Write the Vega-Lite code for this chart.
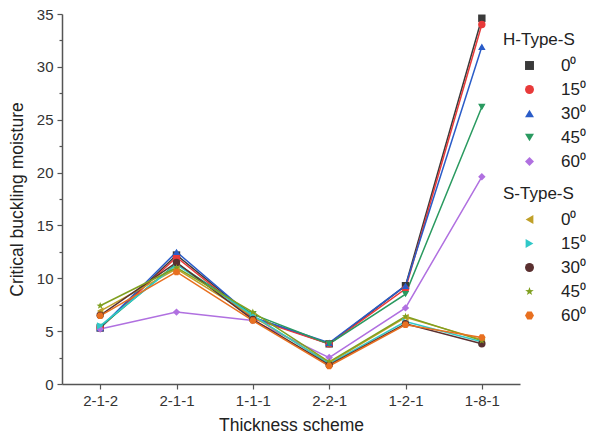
{
  "$schema": "https://vega.github.io/schema/vega-lite/v6.json",
  "width": 458,
  "height": 370,
  "autosize": {"type": "none"},
  "padding": {"left": 62, "top": 14, "right": 72, "bottom": 60},
  "background": "white",
  "config": {
    "view": {"stroke": null},
    "font": "Liberation Sans",
    "axis": {"domainColor": "#555555", "tickColor": "#555555", "labelColor": "#333333", "titleColor": "#222222", "labelFont": "Liberation Sans", "titleFont": "Liberation Sans", "titleFontWeight": "normal", "grid": false, "domainWidth": 1.5, "tickWidth": 1.2},
    "legend": {"labelFont": "Liberation Sans", "titleFont": "Liberation Sans", "titleFontWeight": "normal", "labelColor": "#222222", "titleColor": "#222222"}
  },
  "data": {
    "values": [
      {"scheme": "2-1-2", "group": "H", "angle": "0⁰", "value": 5.3},
      {"scheme": "2-1-1", "group": "H", "angle": "0⁰", "value": 12.2},
      {"scheme": "1-1-1", "group": "H", "angle": "0⁰", "value": 6.3},
      {"scheme": "2-2-1", "group": "H", "angle": "0⁰", "value": 3.8},
      {"scheme": "1-2-1", "group": "H", "angle": "0⁰", "value": 9.3},
      {"scheme": "1-8-1", "group": "H", "angle": "0⁰", "value": 34.6},
      {"scheme": "2-1-2", "group": "H", "angle": "15⁰", "value": 5.3},
      {"scheme": "2-1-1", "group": "H", "angle": "15⁰", "value": 12.0},
      {"scheme": "1-1-1", "group": "H", "angle": "15⁰", "value": 6.2},
      {"scheme": "2-2-1", "group": "H", "angle": "15⁰", "value": 3.8},
      {"scheme": "1-2-1", "group": "H", "angle": "15⁰", "value": 9.0},
      {"scheme": "1-8-1", "group": "H", "angle": "15⁰", "value": 34.0},
      {"scheme": "2-1-2", "group": "H", "angle": "30⁰", "value": 5.3},
      {"scheme": "2-1-1", "group": "H", "angle": "30⁰", "value": 12.5},
      {"scheme": "1-1-1", "group": "H", "angle": "30⁰", "value": 6.3},
      {"scheme": "2-2-1", "group": "H", "angle": "30⁰", "value": 3.9},
      {"scheme": "1-2-1", "group": "H", "angle": "30⁰", "value": 9.3},
      {"scheme": "1-8-1", "group": "H", "angle": "30⁰", "value": 31.9},
      {"scheme": "2-1-2", "group": "H", "angle": "45⁰", "value": 5.4},
      {"scheme": "2-1-1", "group": "H", "angle": "45⁰", "value": 11.4},
      {"scheme": "1-1-1", "group": "H", "angle": "45⁰", "value": 6.6},
      {"scheme": "2-2-1", "group": "H", "angle": "45⁰", "value": 3.8},
      {"scheme": "1-2-1", "group": "H", "angle": "45⁰", "value": 8.5},
      {"scheme": "1-8-1", "group": "H", "angle": "45⁰", "value": 26.2},
      {"scheme": "2-1-2", "group": "H", "angle": "60⁰", "value": 5.2},
      {"scheme": "2-1-1", "group": "H", "angle": "60⁰", "value": 6.8},
      {"scheme": "1-1-1", "group": "H", "angle": "60⁰", "value": 6.0},
      {"scheme": "2-2-1", "group": "H", "angle": "60⁰", "value": 2.5},
      {"scheme": "1-2-1", "group": "H", "angle": "60⁰", "value": 7.2},
      {"scheme": "1-8-1", "group": "H", "angle": "60⁰", "value": 19.6},
      {"scheme": "2-1-2", "group": "S", "angle": "0⁰", "value": 6.9},
      {"scheme": "2-1-1", "group": "S", "angle": "0⁰", "value": 10.9},
      {"scheme": "1-1-1", "group": "S", "angle": "0⁰", "value": 6.4},
      {"scheme": "2-2-1", "group": "S", "angle": "0⁰", "value": 2.0},
      {"scheme": "1-2-1", "group": "S", "angle": "0⁰", "value": 6.3},
      {"scheme": "1-8-1", "group": "S", "angle": "0⁰", "value": 4.2},
      {"scheme": "2-1-2", "group": "S", "angle": "15⁰", "value": 5.5},
      {"scheme": "2-1-1", "group": "S", "angle": "15⁰", "value": 11.3},
      {"scheme": "1-1-1", "group": "S", "angle": "15⁰", "value": 6.5},
      {"scheme": "2-2-1", "group": "S", "angle": "15⁰", "value": 1.9},
      {"scheme": "1-2-1", "group": "S", "angle": "15⁰", "value": 5.9},
      {"scheme": "1-8-1", "group": "S", "angle": "15⁰", "value": 4.0},
      {"scheme": "2-1-2", "group": "S", "angle": "30⁰", "value": 6.5},
      {"scheme": "2-1-1", "group": "S", "angle": "30⁰", "value": 11.5},
      {"scheme": "1-1-1", "group": "S", "angle": "30⁰", "value": 6.1},
      {"scheme": "2-2-1", "group": "S", "angle": "30⁰", "value": 1.8},
      {"scheme": "1-2-1", "group": "S", "angle": "30⁰", "value": 5.7},
      {"scheme": "1-8-1", "group": "S", "angle": "30⁰", "value": 3.8},
      {"scheme": "2-1-2", "group": "S", "angle": "45⁰", "value": 7.4},
      {"scheme": "2-1-1", "group": "S", "angle": "45⁰", "value": 11.0},
      {"scheme": "1-1-1", "group": "S", "angle": "45⁰", "value": 6.8},
      {"scheme": "2-2-1", "group": "S", "angle": "45⁰", "value": 2.1},
      {"scheme": "1-2-1", "group": "S", "angle": "45⁰", "value": 6.4},
      {"scheme": "1-8-1", "group": "S", "angle": "45⁰", "value": 4.1},
      {"scheme": "2-1-2", "group": "S", "angle": "60⁰", "value": 6.45},
      {"scheme": "2-1-1", "group": "S", "angle": "60⁰", "value": 10.6},
      {"scheme": "1-1-1", "group": "S", "angle": "60⁰", "value": 6.0},
      {"scheme": "2-2-1", "group": "S", "angle": "60⁰", "value": 1.7},
      {"scheme": "1-2-1", "group": "S", "angle": "60⁰", "value": 5.6},
      {"scheme": "1-8-1", "group": "S", "angle": "60⁰", "value": 4.4}
    ]
  },
  "encoding": {
    "x": {
      "field": "scheme", "type": "ordinal",
      "sort": ["2-1-2", "2-1-1", "1-1-1", "2-2-1", "1-2-1", "1-8-1"],
      "scale": {"type": "point", "padding": 0.5},
      "axis": {"title": "Thickness scheme", "labelAngle": 0, "labelFontSize": 15, "titleFontSize": 17.5, "tickSize": 5, "labelPadding": 4, "titlePadding": 8}
    },
    "y": {
      "field": "value", "type": "quantitative",
      "scale": {"domain": [0, 35], "nice": false},
      "axis": {
        "title": "Critical buckling moisture",
        "values": [0, 2.5, 5, 7.5, 10, 12.5, 15, 17.5, 20, 22.5, 25, 27.5, 30, 32.5, 35],
        "labelExpr": "datum.value % 5 === 0 ? datum.label : ''",
        "tickSize": {"condition": {"test": "datum.value % 5 === 0", "value": 5}, "value": 3},
        "labelFontSize": 15, "titleFontSize": 17.5, "labelPadding": 4, "titlePadding": 10
      }
    }
  },
  "layer": [
    {
      "transform": [{"filter": "datum.group === 'H'"}],
      "encoding": {
        "color": {
          "field": "angle", "type": "nominal",
          "scale": {"domain": ["0⁰", "15⁰", "30⁰", "45⁰", "60⁰"], "range": ["#3a3a3a", "#e83a3a", "#2a5cc8", "#2a9a60", "#b070e0"]},
          "legend": {
            "title": "H-Type-S", "orient": "none", "legendX": 441, "legendY": 18,
            "titleFontSize": 17, "labelFontSize": 17, "symbolSize": 80, "symbolOffset": 18, "labelOffset": 23, "rowPadding": 6, "titlePadding": 8,
            "symbolStrokeWidth": 0
          }
        },
        "shape": {
          "field": "angle", "type": "nominal",
          "scale": {"domain": ["0⁰", "15⁰", "30⁰", "45⁰", "60⁰"], "range": ["square", "circle", "triangle-up", "triangle-down", "diamond"]},
          "legend": null
        }
      },
      "layer": [
        {"mark": {"type": "line", "strokeWidth": 1.5}},
        {"mark": {"type": "point", "filled": true, "size": 55, "opacity": 1}}
      ]
    },
    {
      "transform": [{"filter": "datum.group === 'S'"}],
      "encoding": {
        "color": {
          "field": "angle", "type": "nominal",
          "scale": {"domain": ["0⁰", "15⁰", "30⁰", "45⁰", "60⁰"], "range": ["#c0a028", "#30c8c8", "#5a3030", "#80a020", "#e87020"]},
          "legend": {
            "title": "S-Type-S", "orient": "none", "legendX": 441, "legendY": 172,
            "titleFontSize": 17, "labelFontSize": 17, "symbolSize": 80, "symbolOffset": 18, "labelOffset": 23, "rowPadding": 6, "titlePadding": 8,
            "symbolStrokeWidth": 0
          }
        },
        "shape": {
          "field": "angle", "type": "nominal",
          "scale": {"domain": ["0⁰", "15⁰", "30⁰", "45⁰", "60⁰"], "range": ["triangle-left", "triangle-right", "circle", "M0,-1L0.24,-0.32L0.96,-0.3L0.38,0.12L0.58,0.8L0,0.4L-0.58,0.8L-0.38,0.12L-0.96,-0.3L-0.24,-0.32Z", "M1,0L0.5,0.87H-0.5L-1,0L-0.5,-0.87H0.5Z"]},
          "legend": null
        }
      },
      "layer": [
        {"mark": {"type": "line", "strokeWidth": 1.5}},
        {"mark": {"type": "point", "filled": true, "size": 55, "opacity": 1}}
      ]
    }
  ],
  "resolve": {"scale": {"color": "independent", "shape": "independent"}, "legend": {"color": "independent", "shape": "independent"}}
}
